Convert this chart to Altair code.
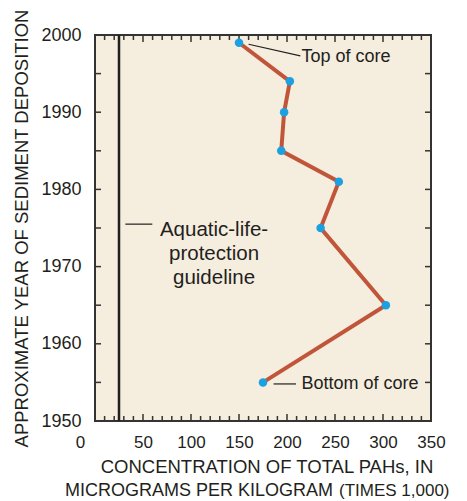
import altair as alt
import pandas as pd

# Sediment-core samples: deposition year and total PAH concentration (ug/kg x 1,000)
years = [1999, 1994, 1990, 1985, 1981, 1975, 1965, 1955]
pahs = [150, 203, 197, 194, 254, 235, 303, 175]

# Aquatic-life-protection guideline (same units)
guideline = [25]

# Axis tick values
x_label_values = [0, 50, 100, 150, 200, 250, 300, 350]
y_label_values = [1950, 1960, 1970, 1980, 1990, 2000]
x_minor_ticks = [v for v in range(10, 350, 10) if v % 50 != 0]
x_major_ticks = [50, 100, 150, 200, 250, 300]
y_ticks = [1955, 1960, 1965, 1970, 1975, 1980, 1985, 1990, 1995]

# Annotation labels (data coordinates)
note_text = ["Top of core", "Bottom of core"]
note_x = [215, 215]
note_y = [1997.2, 1954.8]
leader_x = [160, 186]
leader_x2 = [213.9, 209.4]
leader_y = [1998.8, 1954.8]
leader_y2 = [1997.3, 1954.8]
guide_text = ["Aquatic-life-", "protection", "guideline"]
guide_text_x = [124]
guide_text_y = [1974.8]
guide_dash_x = [31.6]
guide_dash_x2 = [59.7]
guide_dash_y = [1975.5]

x_title_1 = "CONCENTRATION OF TOTAL PAHs, IN"
x_title_2a = "MICROGRAMS PER KILOGRAM"
x_title_2b = "(TIMES 1,000)"

W, H = 336, 386
FONT = "Liberation Sans"
INK = "#231F20"
FRAME = "#333333"

xs = alt.Scale(domain=[0, 350], nice=False, zero=False)
ys = alt.Scale(domain=[1950, 2000], nice=False, zero=False)

core = pd.DataFrame({"year": years, "pah": pahs})

x_axis = alt.Axis(
    values=x_label_values, ticks=False, tickSize=0, domain=False, grid=False,
    title=None, labelFont=FONT, labelFontSize=17, labelColor=INK,
    labelPadding=13, labelFlush=False, labelOverlap=False,
    labelOffset={"condition": {"test": "datum.value === 0", "value": -15}, "value": 0},
)
y_axis = alt.Axis(
    values=y_label_values, format="d", ticks=False, tickSize=0, domain=False,
    grid=False, labelFont=FONT, labelFontSize=18, labelColor=INK,
    labelPadding=14, labelFlush=False, labelOverlap=False,
    title="APPROXIMATE YEAR OF SEDIMENT DEPOSITION", titleFont=FONT,
    titleFontSize=18.5, titleFontWeight="normal", titleColor=INK,
    titleX=-68, titleY=H / 2, titleAngle=270, titleAlign="center",
    titleBaseline="alphabetic",
)

X = lambda f: alt.X(f, scale=xs)
Y = lambda f: alt.Y(f, scale=ys)

line = alt.Chart(core).mark_line(color="#C1553A", strokeWidth=4).encode(
    x=alt.X("pah:Q", scale=xs, axis=x_axis),
    y=alt.Y("year:Q", scale=ys, axis=y_axis),
    order=alt.Order("year:Q", sort="descending"),
)
points = alt.Chart(core).mark_point(
    filled=True, color="#1BA1E2", size=72, opacity=1, shape="circle"
).encode(x=X("pah:Q"), y=Y("year:Q"))

guide = alt.Chart(pd.DataFrame({"g": guideline})).mark_rule(
    color=INK, strokeWidth=2.5
).encode(x=X("g:Q"))

# Inward frame ticks
tick_style = dict(color=FRAME, strokeWidth=1.5)
bx_minor = alt.Chart(pd.DataFrame({"v": x_minor_ticks}))
bx_major = alt.Chart(pd.DataFrame({"v": x_major_ticks}))
yt = alt.Chart(pd.DataFrame({"v": y_ticks}))
ticks = [
    bx_minor.mark_rule(**tick_style).encode(x=X("v:Q"), y=alt.value(H), y2=alt.value(H - 5)),
    bx_minor.mark_rule(**tick_style).encode(x=X("v:Q"), y=alt.value(0), y2=alt.value(5)),
    bx_major.mark_rule(**tick_style).encode(x=X("v:Q"), y=alt.value(H), y2=alt.value(H - 7)),
    bx_major.mark_rule(**tick_style).encode(x=X("v:Q"), y=alt.value(0), y2=alt.value(7)),
    yt.mark_rule(**tick_style).encode(y=Y("v:Q"), x=alt.value(0), x2=alt.value(6)),
    yt.mark_rule(**tick_style).encode(y=Y("v:Q"), x=alt.value(W), x2=alt.value(W - 6)),
]

notes = pd.DataFrame({
    "text": note_text, "x": note_x, "y": note_y,
    "lx": leader_x, "lx2": leader_x2, "ly": leader_y, "ly2": leader_y2,
})
leaders = alt.Chart(notes).mark_rule(color=INK, strokeWidth=1.2).encode(
    x=X("lx:Q"), x2="lx2:Q", y=Y("ly:Q"), y2="ly2:Q",
)
note_labels = alt.Chart(notes).mark_text(
    align="left", baseline="middle", font=FONT, fontSize=18, color=INK
).encode(x=X("x:Q"), y=Y("y:Q"), text="text:N")

guide_note = pd.DataFrame({
    "x": guide_text_x, "y": guide_text_y, "text": [guide_text],
    "dx": guide_dash_x, "dx2": guide_dash_x2, "dy": guide_dash_y,
})
guide_label = alt.Chart(guide_note).mark_text(
    align="center", baseline="middle", font=FONT, fontSize=20.5, color=INK,
    lineHeight=24,
).encode(x=X("x:Q"), y=Y("y:Q"), text="text")
guide_dash = alt.Chart(guide_note).mark_rule(color=INK, strokeWidth=1.2).encode(
    x=X("dx:Q"), x2="dx2:Q", y=Y("dy:Q"),
)

# Two-line x-axis title, second line with a smaller trailing unit note
titles = pd.DataFrame({"t1": [x_title_1], "t2a": [x_title_2a], "t2b": [x_title_2b]})
tchart = alt.Chart(titles)
title_layers = [
    tchart.mark_text(align="center", baseline="alphabetic", font=FONT,
                     fontSize=18.5, color=INK).encode(
        text="t1:N", x=alt.value(172), y=alt.value(438)),
    tchart.mark_text(align="right", baseline="alphabetic", font=FONT,
                     fontSize=18, color=INK).encode(
        text="t2a:N", x=alt.value(238), y=alt.value(461)),
    tchart.mark_text(align="left", baseline="alphabetic", font=FONT,
                     fontSize=17, color=INK).encode(
        text="t2b:N", x=alt.value(244), y=alt.value(461)),
]

chart = alt.layer(
    line, guide, *ticks, points, leaders, note_labels, guide_dash, guide_label,
    *title_layers,
).properties(
    width=W, height=H,
    autosize=alt.AutoSizeParams(type="none"),
    padding={"left": 95, "top": 35, "right": 36, "bottom": 80},
    background="white",
).configure_view(
    fill="#F5EDDE", stroke=FRAME, strokeWidth=2,
)

chart.save("out.html", embed_options={"renderer": "svg", "actions": False})
